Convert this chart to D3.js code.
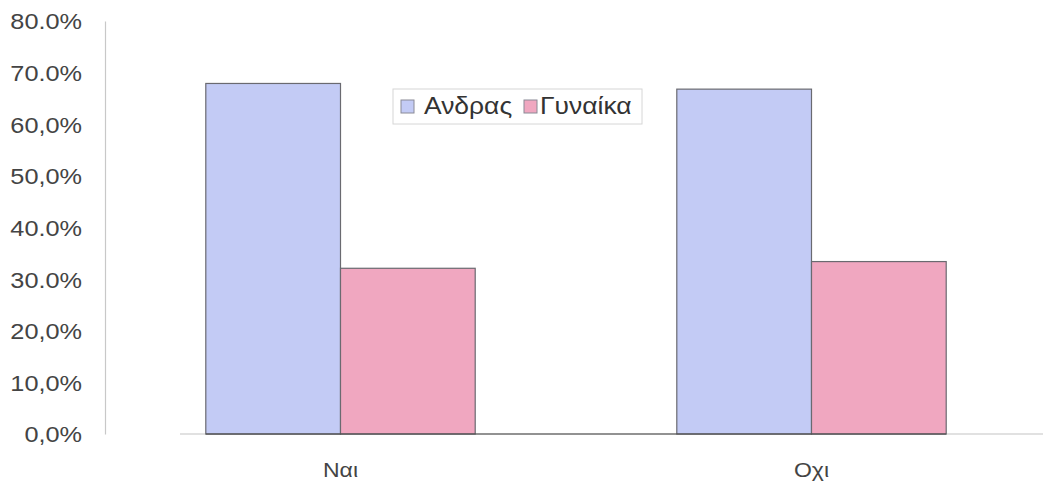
<!DOCTYPE html>
<html>
<head>
<meta charset="utf-8">
<script src="https://cdn.jsdelivr.net/npm/d3@7"></script>
<style>
  html, body { margin: 0; padding: 0; background: #fff; }
  svg { display: block; font-family: "Liberation Sans", Arial, sans-serif; }
</style>
</head>
<body>
<svg id="chart" width="1043" height="488"></svg>
<script>
// Answers (Ναι / Οχι) split by gender, share in percent
const categories = ["Ναι", "Οχι"];
const seriesNames = ["Ανδρας", "Γυναίκα"];
const menValues = [67.9, 66.8];
const womenValues = [32.1, 33.4];
const tickValues = [0, 10, 20, 30, 40, 50, 60, 70, 80];
const tickLabels = ["0,0%", "10,0%", "20,0%", "30.0%", "40.0%", "50,0%", "60,0%", "70.0%", "80.0%"];

const colors = { "Ανδρας": "#c3cbf5", "Γυναίκα": "#f0a7c0" };
const seriesValues = { "Ανδρας": menValues, "Γυναίκα": womenValues };

const svg = d3.select("#chart");
const margin = { left: 105, top: 21 };
const stretch = 1.15; // slightly wide lettering

const x0 = d3.scaleBand()
  .domain(categories)
  .range([margin.left, 1047])
  .paddingInner(0.428)
  .paddingOuter(0.214);

const x1 = d3.scaleBand()
  .domain(seriesNames)
  .range([0, x0.bandwidth()]);

const y = d3.scaleLinear()
  .domain([0, 80])
  .range([434, margin.top]);

// Y axis
const yPad = 23;
const yAxis = d3.axisLeft(y)
  .tickValues(tickValues)
  .tickFormat((d, i) => tickLabels[i])
  .tickSize(0)
  .tickPadding(yPad);

const gy = svg.append("g")
  .attr("transform", `translate(${margin.left},0)`)
  .call(yAxis);
gy.select(".domain").attr("stroke", "#c8c8c8").attr("stroke-width", 1.2);
gy.selectAll("text")
  .attr("font-size", 22)
  .attr("fill", "#444")
  .attr("dy", "0.36em")
  .attr("transform", `translate(${-yPad},0) scale(${stretch},1) translate(${yPad},0)`);

// X axis
const xAxis = d3.axisBottom(x0).tickSize(0).tickPadding(29);
const gx = svg.append("g")
  .attr("transform", `translate(0,${y(0)})`)
  .call(xAxis);
gx.select(".domain").remove();
gx.append("line")
  .attr("x1", 180).attr("x2", 1043)
  .attr("y1", 0).attr("y2", 0)
  .attr("stroke", "#c4c4c4").attr("stroke-width", 1.2);
gx.selectAll("text")
  .attr("font-size", 20)
  .attr("fill", "#444")
  .attr("transform", `scale(${stretch},1)`);

// Bars
const groups = svg.append("g")
  .selectAll("g")
  .data(categories)
  .join("g")
  .attr("transform", d => `translate(${x0(d)},0)`);

groups.selectAll("rect")
  .data((d, i) => seriesNames.map(s => ({ s, v: seriesValues[s][i] })))
  .join("rect")
  .attr("x", d => x1(d.s))
  .attr("y", d => y(d.v))
  .attr("width", x1.bandwidth())
  .attr("height", d => y(0) - y(d.v))
  .attr("fill", d => colors[d.s])
  .attr("stroke", "#6a6a70")
  .attr("stroke-width", 1.2);

// Baseline under the bars
svg.append("line")
  .attr("x1", x0(categories[0])).attr("x2", x0(categories[1]) + x0.bandwidth())
  .attr("y1", y(0)).attr("y2", y(0))
  .attr("stroke", "#444").attr("stroke-width", 1.2);

// Legend
const legend = svg.append("g").attr("transform", "translate(393,89)");
legend.append("rect")
  .attr("width", 249).attr("height", 35)
  .attr("fill", "#fff")
  .attr("stroke", "#d6d6d6").attr("stroke-width", 1);

const items = [
  { name: seriesNames[0], sx: 8, tx: 31 },
  { name: seriesNames[1], sx: 131, tx: 147 }
];
const li = legend.selectAll("g.item").data(items).join("g").attr("class", "item");
li.append("rect")
  .attr("x", d => d.sx).attr("y", 11)
  .attr("width", 13).attr("height", 13)
  .attr("fill", d => colors[d.name])
  .attr("stroke", "#8a8a96").attr("stroke-width", 1);
li.append("text")
  .attr("x", 0).attr("y", 25)
  .attr("transform", d => `translate(${d.tx},0) scale(${stretch},1)`)
  .attr("font-size", 23)
  .attr("fill", "#333")
  .text(d => d.name);
</script>
</body>
</html>
